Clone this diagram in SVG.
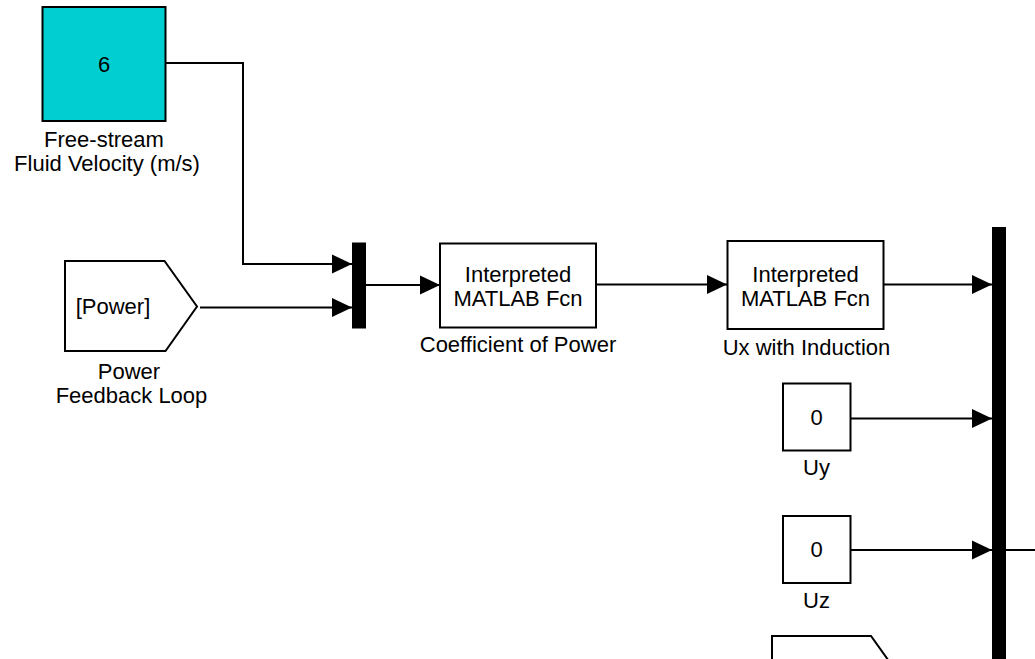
<svg xmlns="http://www.w3.org/2000/svg" width="1035" height="659" viewBox="0 0 1035 659">
  <defs>
    <marker id="arrow" markerUnits="userSpaceOnUse" markerWidth="22" markerHeight="22" viewBox="-21 -11 22 22" refX="0" refY="0" orient="auto">
      <polygon points="0,0 -20,-9.5 -20,9.5" fill="#000"/>
    </marker>
    <style>
      text { font-family: "Liberation Sans", Arial, sans-serif; font-size: 22px; fill: #000; text-anchor: middle; }
      .blk { fill: #fff; stroke: #000; stroke-width: 2; }
      .const { fill: #00CED1; stroke: #000; stroke-width: 2; }
      .bar { fill: #000; }
      .wire { fill: none; stroke: #000; stroke-width: 2; }
      .arr { marker-end: url(#arrow); }
    </style>
  </defs>
  <rect width="1035" height="659" fill="#fff"/>

  <!-- signal lines -->
  <g id="connectors">
    <polyline class="wire arr" points="166,63 243,63 243,264 352,264"/>
    <polyline class="wire arr" points="200,307.5 352,307.5"/>
    <polyline class="wire arr" points="366,285 440,285"/>
    <polyline class="wire arr" points="596,284.5 727,284.5"/>
    <polyline class="wire arr" points="884,284.5 992,284.5"/>
    <polyline class="wire arr" points="851,418.5 992,418.5"/>
    <polyline class="wire arr" points="851,550 992,550"/>
    <polyline class="wire" points="1006,550 1035,550"/>
  </g>

  <g id="freestream">
    <rect class="const" x="42.5" y="7" width="123" height="114"/>
    <text x="104" y="72">6</text>
    <text x="104" y="147">Free-stream</text>
    <text x="107" y="171">Fluid Velocity (m/s)</text>
  </g>

  <g id="power-from">
    <polygon class="blk" points="65,261 164.5,261 197,306.5 165.5,351 65,351"/>
    <text x="113" y="314">[Power]</text>
    <text x="129" y="379">Power</text>
    <text x="131.5" y="403">Feedback Loop</text>
  </g>

  <g id="mux">
    <rect class="bar" x="352" y="242.5" width="14" height="86"/>
  </g>

  <g id="coefficient-of-power">
    <rect class="blk" x="440" y="243.5" width="156" height="84"/>
    <text x="518" y="282">Interpreted</text>
    <text x="518" y="306">MATLAB Fcn</text>
    <text x="518" y="352">Coefficient of Power</text>
  </g>

  <g id="ux-with-induction">
    <rect class="blk" x="727.5" y="241" width="156" height="88"/>
    <text x="805.5" y="282">Interpreted</text>
    <text x="805.5" y="306">MATLAB Fcn</text>
    <text x="806.5" y="355">Ux with Induction</text>
  </g>

  <g id="uy">
    <rect class="blk" x="783" y="383.5" width="67.5" height="67"/>
    <text x="816.5" y="425">0</text>
    <text x="816.5" y="475">Uy</text>
  </g>

  <g id="uz">
    <rect class="blk" x="783" y="516" width="67.5" height="67"/>
    <text x="816.5" y="557">0</text>
    <text x="816.5" y="608">Uz</text>
  </g>

  <g id="bus">
    <rect class="bar" x="992" y="227" width="14" height="440"/>
  </g>

  <g id="lower-from">
    <polygon class="blk" points="772,636 871,636 903.5,681.5 872,726 772,726"/>
  </g>
</svg>
